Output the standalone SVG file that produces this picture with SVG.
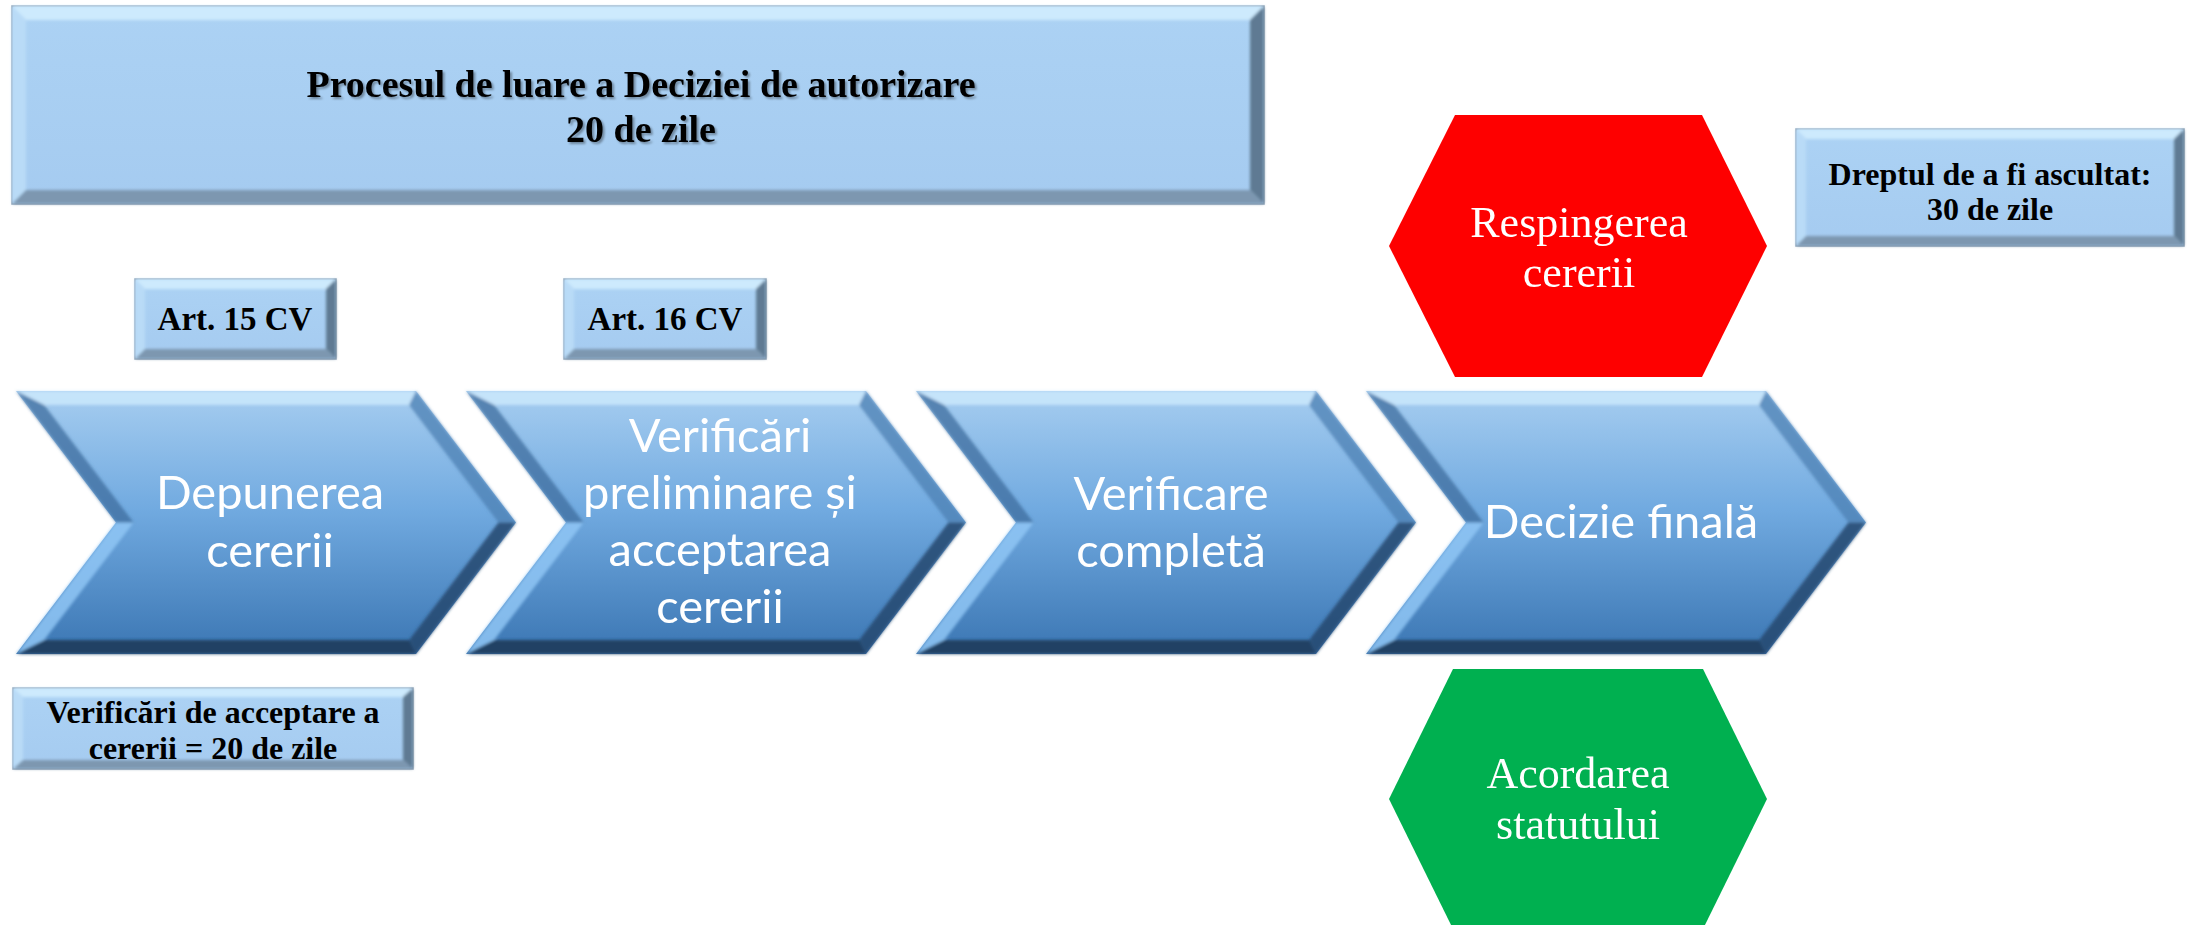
<svg xmlns="http://www.w3.org/2000/svg" width="2187" height="925" viewBox="0 0 2187 925">
<defs>
<linearGradient id="chevGrad" x1="0" y1="0" x2="0" y2="1">
<stop offset="0" stop-color="#a6cdf0"/>
<stop offset="0.45" stop-color="#71aae0"/>
<stop offset="1" stop-color="#3b76b3"/>
</linearGradient>
<linearGradient id="boxGrad" x1="0" y1="0" x2="0" y2="1">
<stop offset="0" stop-color="#acd2f4"/>
<stop offset="1" stop-color="#a5cbf0"/>
</linearGradient>
<filter id="tshadow" x="-5%" y="-20%" width="110%" height="150%">
<feDropShadow dx="2" dy="2" stdDeviation="1.2" flood-color="#000" flood-opacity="0.35"/>
</filter>
<filter id="soft" x="-5%" y="-5%" width="110%" height="110%">
<feGaussianBlur stdDeviation="1.5"/>
</filter>
<g id="chevShape">
<polygon points="0,391 400,391 500,522.5 400,654 0,654 100,522.5" fill="url(#chevGrad)"/>
<g filter="url(#soft)">
<polygon points="0,391 400,391 393.1,405 28.2,405" fill="#cdeafc" opacity="0.8"/>
<polygon points="400,391 500,522.5 482.4,522.5 393.1,405" fill="#4d80b3" opacity="0.75"/>
<polygon points="500,522.5 400,654 393.1,640 482.4,522.5" fill="#26496f" opacity="0.85"/>
<polygon points="400,654 0,654 28.2,640 393.1,640" fill="#1f3b5b" opacity="0.9"/>
<polygon points="0,654 100,522.5 117.6,522.5 28.2,640" fill="#8fc6f4" opacity="0.85"/>
<polygon points="100,522.5 0,391 28.2,405 117.6,522.5" fill="#3f6e9d" opacity="0.75"/>
</g>
</g>
</defs>
<style>
.box { fill: url(#boxGrad); stroke: #8fa3b6; stroke-width: 1.5; }
.bTop { fill: #cdeafd; }
.bLeft { fill: #b9dbf7; }
.bRight { fill: #5f7a93; }
.bBot { fill: #7d97b0; }
.bt { font-family: "Liberation Serif", "Times New Roman", serif; font-weight: bold; fill: #000; text-anchor: middle; }
.ct { font-family: Lato, "Open Sans", sans-serif; fill: #fff; text-anchor: middle; font-size: 47px; }
.ht { font-family: "Liberation Serif", "Times New Roman", serif; fill: #fff; text-anchor: middle; font-size: 44px; }
</style>
<rect x="0" y="0" width="2187" height="925" fill="#ffffff"/>

<g id="connectors"></g>

<g id="title-box">
<rect class="box" x="12" y="6" width="1252" height="198"/>
<g filter="url(#soft)">
<polygon class="bTop" points="12,6 1264,6 1250,20 26,20"/>
<polygon class="bLeft" points="12,6 26,20 26,190 12,204"/>
<polygon class="bRight" points="1264,6 1264,204 1250,190 1250,20"/>
<polygon class="bBot" points="12,204 1264,204 1250,190 26,190"/>
</g>
<g filter="url(#tshadow)">
<text class="bt" x="641" y="97" font-size="38">Procesul de luare a Deciziei de autorizare</text>
<text class="bt" x="641" y="142" font-size="38">20 de zile</text>
</g>
</g>

<g id="art15-box">
<rect class="box" x="135" y="279" width="201" height="80"/>
<g filter="url(#soft)">
<polygon class="bTop" points="135,279 336,279 326,289 145,289"/>
<polygon class="bLeft" points="135,279 145,289 145,349 135,359"/>
<polygon class="bRight" points="336,279 336,359 326,349 326,289"/>
<polygon class="bBot" points="135,359 336,359 326,349 145,349"/>
</g>
<text class="bt" x="235" y="330" font-size="33">Art. 15 CV</text>
</g>

<g id="art16-box">
<rect class="box" x="564" y="279" width="202" height="80"/>
<g filter="url(#soft)">
<polygon class="bTop" points="564,279 766,279 756,289 574,289"/>
<polygon class="bLeft" points="564,279 574,289 574,349 564,359"/>
<polygon class="bRight" points="766,279 766,359 756,349 756,289"/>
<polygon class="bBot" points="564,359 766,359 756,349 574,349"/>
</g>
<text class="bt" x="665" y="330" font-size="33">Art. 16 CV</text>
</g>

<g id="dreptul-box">
<rect class="box" x="1796" y="129" width="388" height="117"/>
<g filter="url(#soft)">
<polygon class="bTop" points="1796,129 2184,129 2174,139 1806,139"/>
<polygon class="bLeft" points="1796,129 1806,139 1806,236 1796,246"/>
<polygon class="bRight" points="2184,129 2184,246 2174,236 2174,139"/>
<polygon class="bBot" points="1796,246 2184,246 2174,236 1806,236"/>
</g>
<text class="bt" x="1990" y="185" font-size="32">Dreptul de a fi ascultat:</text>
<text class="bt" x="1990" y="220" font-size="32">30 de zile</text>
</g>

<g id="verificari-box">
<rect class="box" x="13" y="688" width="400" height="81"/>
<g filter="url(#soft)">
<polygon class="bTop" points="13,688 413,688 403,697 23,697"/>
<polygon class="bLeft" points="13,688 23,697 23,760 13,769"/>
<polygon class="bRight" points="413,688 413,769 403,760 403,697"/>
<polygon class="bBot" points="13,769 413,769 403,760 23,760"/>
</g>
<text class="bt" x="213" y="723" font-size="32">Verificări de acceptare a</text>
<text class="bt" x="213" y="759" font-size="32">cererii = 20 de zile</text>
</g>

<g id="step-depunerea">
<use href="#chevShape" x="16" y="0"/>
<text class="ct" x="270" y="509">Depunerea</text>
<text class="ct" x="270" y="567">cererii</text>
</g>

<g id="step-verificari-preliminare">
<use href="#chevShape" x="466" y="0"/>
<text class="ct" x="720" y="452">Verificări</text>
<text class="ct" x="720" y="509">preliminare și</text>
<text class="ct" x="720" y="566">acceptarea</text>
<text class="ct" x="720" y="623">cererii</text>
</g>

<g id="step-verificare-completa">
<use href="#chevShape" x="916" y="0"/>
<text class="ct" x="1171" y="510">Verificare</text>
<text class="ct" x="1171" y="567">completă</text>
</g>

<g id="step-decizie-finala">
<use href="#chevShape" x="1366" y="0"/>
<text class="ct" x="1621" y="538">Decizie finală</text>
</g>

<g id="respingerea">
<polygon points="1455,115 1702,115 1767,246 1702,377 1455,377 1389,246" fill="#fe0000"/>
<text class="ht" x="1579" y="237">Respingerea</text>
<text class="ht" x="1579" y="287">cererii</text>
</g>

<g id="acordarea">
<polygon points="1453,669 1703,669 1767,799 1703,929 1453,929 1389,799" fill="#00b050"/>
<text class="ht" x="1578" y="788">Acordarea</text>
<text class="ht" x="1578" y="839">statutului</text>
</g>
</svg>
